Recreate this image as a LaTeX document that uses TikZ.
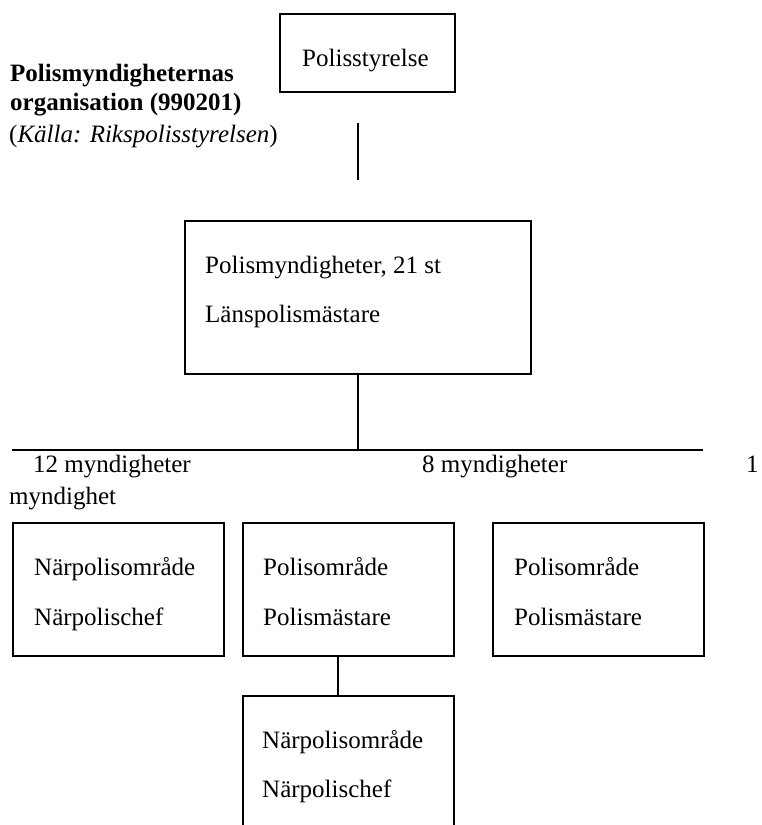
\documentclass[tikz,border=0pt]{standalone}
\usepackage{fontspec}
\setmainfont{Liberation Serif}
\begin{document}
\begin{tikzpicture}[x=1pt,y=-1pt,
  box/.style={draw, line width=1.9pt, inner sep=0pt, anchor=north west, minimum width=211pt, minimum height=133pt},
  lbl/.style={anchor=base west, inner sep=0pt, font=\fontsize{25}{30}\selectfont},
  conn/.style={line width=1.9pt}]
\useasboundingbox (0,0) rectangle (762,825);
\clip (0,0) rectangle (762,825);
% title
\node[lbl, font=\fontsize{25}{30}\selectfont\bfseries] (t1) at (10,81) {Polismyndigheternas};
\node[lbl, font=\fontsize{25}{30}\selectfont\bfseries] (t2) at (10,110) {organisation (990201)};
\node[lbl] (t3) at (9,142) {(\textit{Källa: Rikspolisstyrelsen})};
% boxes
\node[box, minimum width=175pt, minimum height=78pt] (ps) at (279,13) {};
\node[box, minimum width=346pt, minimum height=153pt] (big) at (184,220) {};
\node[box] (b1) at (12,522) {};
\node[box] (b2) at (242,522) {};
\node[box] (b3) at (492,522) {};
\node[box, minimum height=170pt] (b4) at (242,695) {};
% labels in boxes
\node[lbl] (ps1) at ([shift={(23,53)}]ps.north west) {Polisstyrelse};
\node[lbl] (big1) at ([shift={(21,53)}]big.north west) {Polismyndigheter, 21 st};
\node[lbl] (big2) at ([shift={(21,102)}]big.north west) {Länspolismästare};
\node[lbl] (b1a) at ([shift={(22,53)}]b1.north west) {Närpolisområde};
\node[lbl] (b1b) at ([shift={(22,103)}]b1.north west) {Närpolischef};
\node[lbl] (b2a) at ([shift={(21,53)}]b2.north west) {Polisområde};
\node[lbl] (b2b) at ([shift={(21,103)}]b2.north west) {Polismästare};
\node[lbl] (b3a) at ([shift={(22,53)}]b3.north west) {Polisområde};
\node[lbl] (b3b) at ([shift={(22,103)}]b3.north west) {Polismästare};
\node[lbl] (b4a) at ([shift={(20,53)}]b4.north west) {Närpolisområde};
\node[lbl] (b4b) at ([shift={(20,102)}]b4.north west) {Närpolischef};
% group labels
\node[lbl] (g1) at (33,472) {12 myndigheter};
\node[lbl] (g2) at (422,472) {8 myndigheter};
\node[lbl] (g3) at (746,472) {1};
\node[lbl] (g4) at (9,504) {myndighet};
% connectors
\coordinate (v1a) at (358,123);
\coordinate (v1b) at (358,180);
\draw[conn] (v1a) -- (v1b);
\coordinate (hl) at (12,450);
\coordinate (hr) at (703,450);
\draw[conn] (hl) -- (hr);
\draw[conn] (big.south) -- (big.south |- hl);
\coordinate (cx) at (338,0);
\draw[conn] (b2.south -| cx) -- (b4.north -| cx);
\end{tikzpicture}
\end{document}
